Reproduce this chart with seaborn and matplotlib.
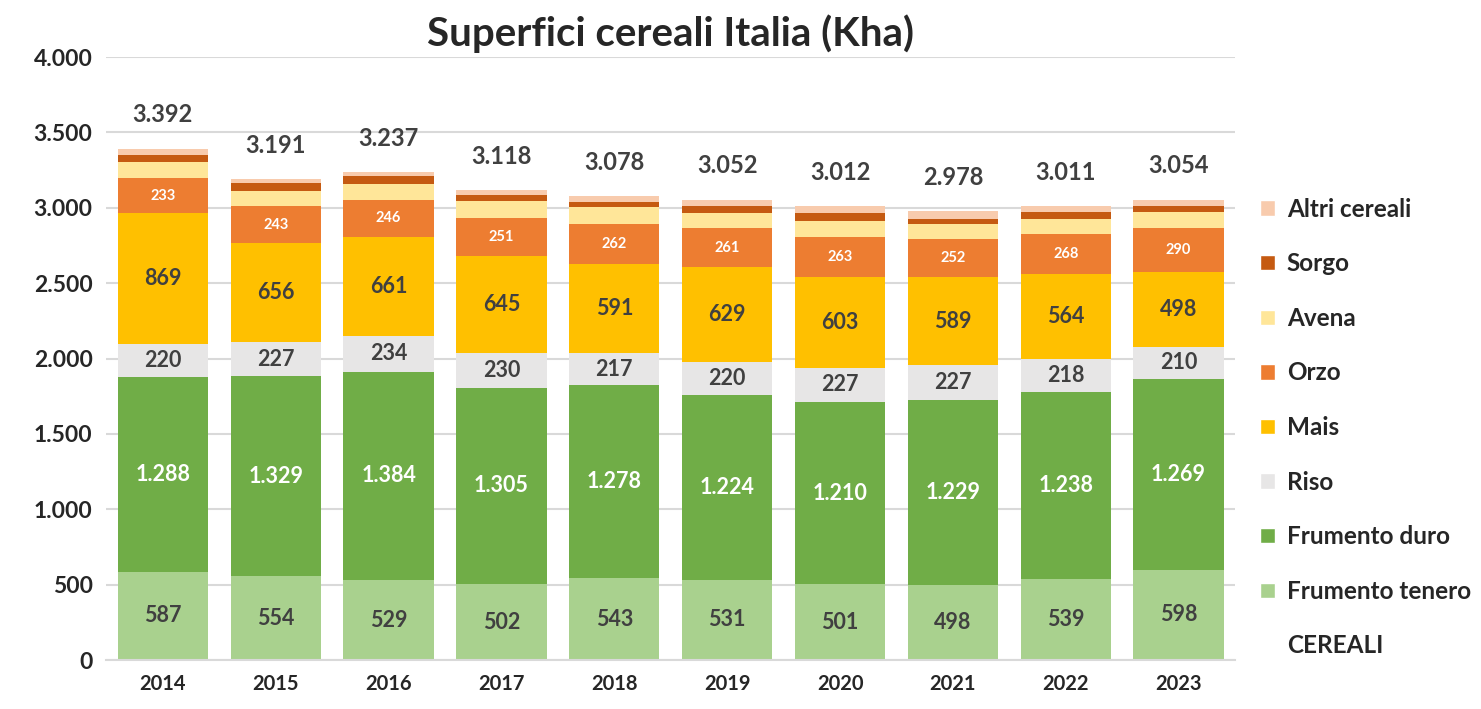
import numpy as np
import pandas as pd
import seaborn as sns
import matplotlib.pyplot as plt
from matplotlib.patches import Patch

# data (Kha)
anni = ["2014", "2015", "2016", "2017", "2018", "2019", "2020", "2021", "2022", "2023"]
frumento_tenero = [587, 554, 529, 502, 543, 531, 501, 498, 539, 598]
frumento_duro = [1288, 1329, 1384, 1305, 1278, 1224, 1210, 1229, 1238, 1269]
riso = [220, 227, 234, 230, 217, 220, 227, 227, 218, 210]
mais = [869, 656, 661, 645, 591, 629, 603, 589, 564, 498]
orzo = [233, 243, 246, 251, 262, 261, 263, 252, 268, 290]
avena = [104, 104, 106, 110, 113, 103, 108, 99, 100, 105]
sorgo = [51, 51, 51, 40, 33, 42, 51, 33, 44, 40]
altri_cereali = [40, 27, 26, 35, 41, 42, 49, 51, 40, 44]
totale = [3392, 3191, 3237, 3118, 3078, 3052, 3012, 2978, 3011, 3054]

serie = ["Frumento tenero", "Frumento duro", "Riso", "Mais", "Orzo", "Avena", "Sorgo", "Altri cereali"]
valori = [frumento_tenero, frumento_duro, riso, mais, orzo, avena, sorgo, altri_cereali]
colori = ["#A9D18E", "#70AD47", "#E7E6E6", "#FFC000", "#ED7D31", "#FFE699", "#C55A11", "#F8CBAD"]
# label style per series (None = no label)
label_col = ["#404040", "white", "#404040", "#404040", "white", None, None, None]
label_size = [15.5, 15.5, 15.5, 15.5, 10.5, 0, 0, 0]

df = pd.DataFrame(dict(zip(serie, valori)), index=anni)
cum = df.cumsum(axis=1)

def it(v):
    return f"{v:,}".replace(",", ".")

sns.set_style("white")
plt.rcParams["font.family"] = ["Lato", "DejaVu Sans"]
plt.rcParams["font.weight"] = "bold"

fig = plt.figure(figsize=(14.81, 7.09), dpi=100)
ax = fig.add_axes([0.0719, 0.0691, 0.762, 0.8505])

# stacked bars: draw cumulative heights from the top series down
for i in range(len(serie) - 1, -1, -1):
    sns.barplot(x=anni, y=cum[serie[i]].values, color=colori[i], width=0.8,
                saturation=1, ax=ax, zorder=2, linewidth=0)

# segment labels
for i, s in enumerate(serie):
    if label_col[i] is None:
        continue
    for j, a in enumerate(anni):
        v = df.loc[a, s]
        mid = cum.loc[a, s] - v / 2
        ax.text(j, mid, it(v), ha="center", va="center", color=label_col[i],
                fontsize=label_size[i], fontweight="bold", zorder=3)

# totals above bars
for j, a in enumerate(anni):
    ax.text(j, cum.loc[a, serie[-1]] + 225, it(totale[j]), ha="center", va="center",
            color="#404040", fontsize=17, fontweight="bold")

ax.set_ylim(0, 4000)
ax.set_xlim(-0.5, 9.5)
ax.set_yticks(np.arange(0, 4001, 500))
ax.set_yticklabels([it(v) for v in range(0, 4001, 500)], fontsize=16.5, fontweight="bold")
ax.set_xticks(range(len(anni)))
ax.set_xticklabels(anni, fontsize=14.5, fontweight="bold")
ax.yaxis.grid(True, color="#D9D9D9", linewidth=1.5, zorder=0)
ax.set_axisbelow(True)
for sp in ["top", "right", "left"]:
    ax.spines[sp].set_visible(False)
ax.spines["bottom"].set_color("#D9D9D9")
ax.spines["bottom"].set_linewidth(1.5)
ax.tick_params(axis="both", length=0, pad=10)
ax.set_xlabel("")
ax.set_ylabel("")

ax.set_title("Superfici cereali Italia (Kha)", fontsize=29, fontweight="bold", pad=8)

handles = [Patch(facecolor=colori[i]) for i in range(len(serie) - 1, -1, -1)]
labels = [serie[i] for i in range(len(serie) - 1, -1, -1)]
handles.append(Patch(facecolor="none", edgecolor="none"))
labels.append("CEREALI")
fig.legend(handles, labels, loc="upper left", bbox_to_anchor=(0.836, 0.752),
           frameon=False, handlelength=0.6, handleheight=0.6,
           handletextpad=0.5, labelspacing=1.3, prop={"weight": "bold", "size": 17.5})

fig.savefig("out.png", dpi=100)
